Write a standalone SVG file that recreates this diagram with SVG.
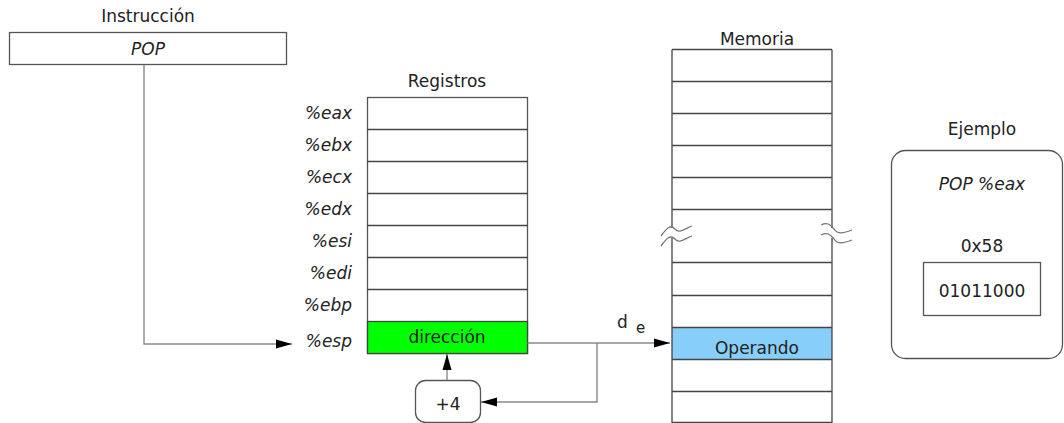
<svg xmlns="http://www.w3.org/2000/svg" width="1064" height="423" viewBox="0 0 1064 423">
<defs>
<style>
text{font-family:"DejaVu Sans","Liberation Sans",sans-serif;font-size:17px;fill:#222}
.it{font-style:italic}
.mid{text-anchor:middle}
.end{text-anchor:end}
.box{fill:#fff;stroke:#555;stroke-width:1.3}
.row{stroke:#444;stroke-width:1.3;fill:none}
.con{fill:none;stroke:#8a8a8a;stroke-width:1.4}
.wave{fill:none;stroke:#777;stroke-width:1.3}
</style>
<marker id="ah" markerUnits="userSpaceOnUse" markerWidth="16" markerHeight="10" refX="16" refY="5" orient="auto">
<path d="M0,0.5 L16,5 L0,9.5 z" fill="#000"/>
</marker>
</defs>
<rect width="1064" height="423" fill="#fff"/>

<g id="instruccion">
<text class="mid" x="148" y="22">Instrucción</text>
<rect class="box" x="9.5" y="32.5" width="277" height="32"/>
<text class="mid it" x="148" y="55">POP</text>
</g>

<g id="registros">
<text class="mid" x="447" y="87">Registros</text>
<rect class="box" x="367.5" y="97.5" width="160" height="256"/>
<rect x="367.5" y="321.5" width="160" height="32" fill="#00ff00" stroke="#444" stroke-width="1.3"/>
<path class="row" d="M367.5,129.5H527.5M367.5,161.5H527.5M367.5,193.5H527.5M367.5,225.5H527.5M367.5,257.5H527.5M367.5,289.5H527.5"/>
<text class="end it" x="352" y="119">%eax</text>
<text class="end it" x="352" y="151">%ebx</text>
<text class="end it" x="352" y="183">%ecx</text>
<text class="end it" x="352" y="215">%edx</text>
<text class="end it" x="352" y="247">%esi</text>
<text class="end it" x="352" y="279">%edi</text>
<text class="end it" x="352" y="311">%ebp</text>
<text class="end it" x="352" y="347">%esp</text>
<text class="mid" x="447" y="343">dirección</text>
</g>

<g id="sumador">
<rect class="box" x="415.5" y="380.5" width="65" height="42" rx="10"/>
<text class="mid" x="448" y="410">+4</text>
</g>

<g id="memoria">
<text class="mid" x="757" y="45">Memoria</text>
<rect x="672" y="327.5" width="160" height="32" fill="#87cefa"/>
<path class="row" d="M672,49.5H832M672,81.5H832M672,113.5H832M672,145.5H832M672,177.5H832M672,209.5H832M672,262.5H832M672,295.5H832M672,327.5H832M672,359.5H832M672,391.5H832M672,422.5H832"/>
<path class="row" d="M672,49.5V228M672,238V423M832,49.5V228M832,238V423"/>
<path class="wave" d="M661,236 C666,229 670,224 675,229 C679,234 684,229 692,226"/>
<path class="wave" d="M661,246 C666,239 670,234 675,239 C679,244 684,239 692,236"/>
<path class="wave" d="M821,225 C827,222 830,224 834,229 C838,235 844,233 852,230"/>
<path class="wave" d="M821,235 C827,232 830,234 834,239 C838,245 844,243 852,240"/>
<text class="mid" x="757" y="354">Operando</text>
</g>

<g id="ejemplo">
<text class="mid" x="982" y="135">Ejemplo</text>
<rect class="box" x="891.5" y="150.5" width="171" height="208" rx="14"/>
<text class="mid it" x="982" y="190">POP %eax</text>
<text class="mid" x="982" y="252">0x58</text>
<rect class="box" x="923.5" y="262.5" width="117" height="53"/>
<text class="mid" x="982" y="297">01011000</text>
</g>

<g id="conectores">
<path class="con" d="M144,65V344H292" marker-end="url(#ah)"/>
<path class="con" d="M527.5,343H670" marker-end="url(#ah)"/>
<path class="con" d="M597,343V402H481" marker-end="url(#ah)"/>
<path class="con" d="M447,380V354" marker-end="url(#ah)"/>
<text x="617" y="328" style="font-size:17px">d</text>
<text x="636" y="333" style="font-size:15px">e</text>
</g>
</svg>
